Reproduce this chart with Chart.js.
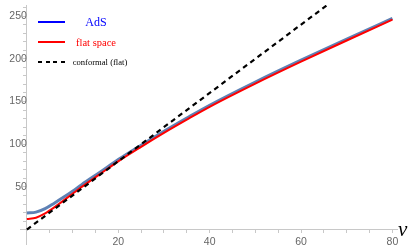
<!DOCTYPE html>
<html>
<head>
<meta charset="utf-8">
<script src="https://cdn.jsdelivr.net/npm/chart.js@4.4.0/dist/chart.umd.min.js"></script>
<style>
  html, body { margin: 0; padding: 0; background: #fff; }
  #wrap { position: relative; width: 417px; height: 245px; }
  #legend { position: absolute; left: 0; top: 0; font-family: "Liberation Serif", "DejaVu Serif", serif; }
  .swatch { position: absolute; left: 38px; width: 27px; height: 2px; }
  .lbl { position: absolute; white-space: nowrap; transform: translate(-50%, -50%); }
  #nu { position: absolute; left: 398px; top: 217px; font: italic 21px "Liberation Serif", serif; color: #000; }
</style>
</head>
<body>
<div id="wrap">
  <canvas id="plot" width="417" height="245"></canvas>
  <div id="legend"></div>
  <div id="nu">ν</div>
</div>
<script>
const canvas = document.getElementById("plot");
const ctx = canvas.getContext("2d");

// values
const nuVals = [0, 2, 4, 6, 8, 10, 12, 16, 20, 25, 30, 35, 40, 50, 60, 70, 80];
const adsVals = [19.5, 20.5, 24.5, 31, 37.8, 45, 52.7, 67.2, 82, 98.9, 115.1, 130.6, 145.6, 172.8, 198.4, 223, 247.3];
const flatVals = [12.5, 14, 19, 26, 34, 42, 50, 65, 80, 97, 113.3, 128.8, 143.8, 171, 196.7, 221.4, 245.8];
const confNu = [0, 80];
const confVals = [0, 320];

const seriesNames = ["AdS", "flat space", "conformal (flat)"];
const legendColors = ["#0000ff", "#ff0000", "#000000"];

const xMajor = [20, 40, 60, 80];
const yMajor = [50, 100, 150, 200, 250];

function pts(xs, ys) {
    return xs.map((x, i) => ({ x: x, y: ys[i] }));
}

// legend drawn as html, top left inside the plot
const legendBox = document.getElementById("legend");
const legendRows = [
    { y: 22, size: 12, dash: false, textX: 96 },
    { y: 42, size: 10.5, dash: false, textX: 96 },
    { y: 62, size: 8.6, dash: true, textX: 100 },
];
legendRows.forEach((row, i) => {
    const sw = document.createElement("div");
    sw.className = "swatch";
    sw.style.top = (row.y - 1) + "px";
    if (row.dash) {
        sw.style.height = "1.5px";
        sw.style.background = "repeating-linear-gradient(to right, " + legendColors[i] + " 0 4px, transparent 4px 7.6px)";
    } else {
        sw.style.background = legendColors[i];
        sw.style.height = "1.6px";
    }
    legendBox.appendChild(sw);
    const lb = document.createElement("div");
    lb.className = "lbl";
    lb.textContent = seriesNames[i];
    lb.style.color = legendColors[i];
    lb.style.fontSize = row.size + "px";
    lb.style.left = row.textX + "px";
    lb.style.top = row.y + "px";
    legendBox.appendChild(lb);
});

const axisColor = "#c8c8c8";
const tickFont = { family: "Liberation Sans, Arial, sans-serif", size: 10.5 };

// axes sit at zero, so their labels should not push the plot area in
function noPad(s) {
    s.paddingTop = 0;
    s.paddingBottom = 0;
    s.paddingLeft = 0;
    s.paddingRight = 0;
}

new Chart(ctx, {
    type: "scatter",
    data: {
        datasets: [
            {
                label: seriesNames[0],
                data: pts(nuVals, adsVals),
                showLine: true,
                borderColor: "rgb(94,129,181)",
                borderWidth: 3,
                pointRadius: 0,
                cubicInterpolationMode: "monotone",
                order: 3,
            },
            {
                label: seriesNames[1],
                data: pts(nuVals, flatVals),
                showLine: true,
                borderColor: "#ff0000",
                borderWidth: 2,
                pointRadius: 0,
                cubicInterpolationMode: "monotone",
                order: 2,
            },
            {
                label: seriesNames[2],
                data: pts(confNu, confVals),
                showLine: true,
                borderColor: "#000",
                borderWidth: 2.2,
                borderDash: [5, 4],
                pointRadius: 0,
                order: 1,
            },
        ],
    },
    options: {
        responsive: false,
        animation: false,
        layout: { padding: { left: 20, right: 20, top: 5, bottom: 0 } },
        plugins: { legend: { display: false }, tooltip: { enabled: false } },
        scales: {
            x: {
                type: "linear",
                position: { y: 0 },
                min: -1.5,
                max: 81,
                afterFit: noPad,
                afterBuildTicks: s => { s.ticks = s.ticks.filter(t => t.value >= 0 && t.value <= 80 && t.value % 5 === 0); },
                ticks: {
                    stepSize: 5,
                    includeBounds: false,
                    autoSkip: false,
                    maxRotation: 0,
                    padding: 3,
                    color: "#666",
                    font: tickFont,
                    callback: v => (xMajor.includes(v) ? String(v) : ""),
                },
                grid: { drawOnChartArea: false, tickLength: 3, color: axisColor },
                border: { color: axisColor },
            },
            y: {
                type: "linear",
                position: { x: 0 },
                min: -18,
                max: 263,
                afterFit: noPad,
                afterBuildTicks: s => { s.ticks = s.ticks.filter(t => t.value > 0 && t.value <= 260 && t.value % 10 === 0); },
                ticks: {
                    stepSize: 10,
                    includeBounds: false,
                    autoSkip: false,
                    padding: 2,
                    color: "#666",
                    font: tickFont,
                    callback: v => (yMajor.includes(v) ? String(v) : ""),
                },
                grid: { drawOnChartArea: false, tickLength: 3, color: axisColor },
                border: { color: axisColor },
            },
        },
    },
});
</script>
</body>
</html>
